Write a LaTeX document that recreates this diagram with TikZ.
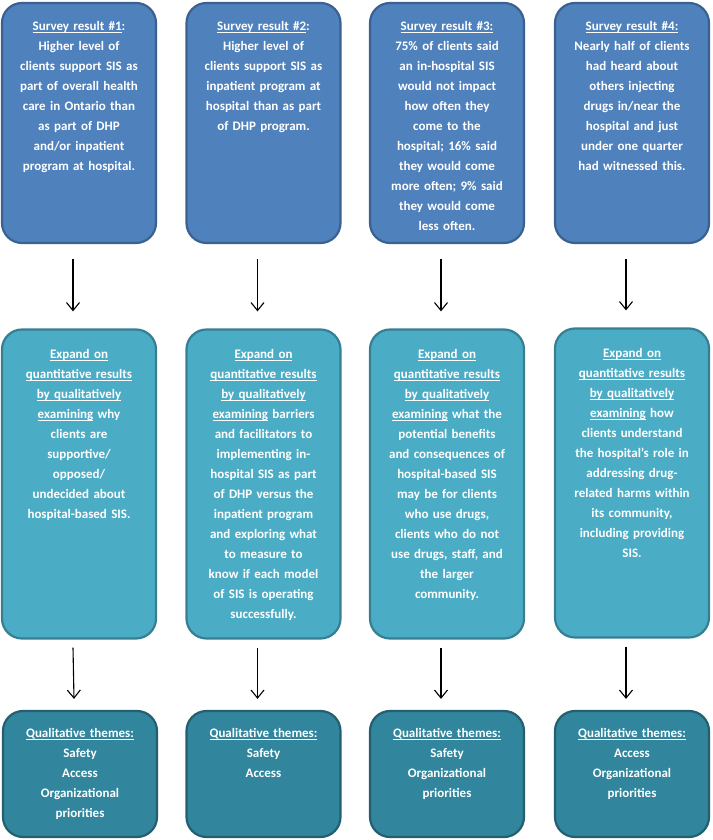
\documentclass[tikz,border=0pt]{standalone}
\usepackage{fontspec}
\setmainfont{Carlito}
\usetikzlibrary{arrows.meta,positioning}

\definecolor{surveyfill}{HTML}{4F81BD}
\definecolor{surveyedge}{HTML}{3A6190}
\definecolor{expandfill}{HTML}{4BACC6}
\definecolor{expandedge}{HTML}{367F93}
\definecolor{themefill}{HTML}{31859C}
\definecolor{themeedge}{HTML}{235F70}

\newcommand{\boxfont}{\fontsize{13}{20}\selectfont\bfseries}
% underline sitting just under the baseline
\newlength{\ulwidth}
\newcommand{\uln}[1]{\leavevmode\settowidth{\ulwidth}{#1}\rlap{\rule[-2.2pt]{\ulwidth}{0.9pt}}#1}

\begin{document}
\begin{tikzpicture}[x=1pt,y=1pt,
 survey/.style={draw=surveyedge,fill=surveyfill,line width=2.2pt,rounded corners=20pt,
   minimum width=154pt,minimum height=240pt},
 expand/.style={draw=expandedge,fill=expandfill,line width=2.2pt,rounded corners=20pt,
   minimum width=154pt,minimum height=309pt},
 theme/.style={draw=themeedge,fill=themefill,line width=2.2pt,rounded corners=20pt,
   minimum width=154pt,minimum height=126pt},
 boxtext/.style={text=white,font=\boxfont,align=center,text width=152pt,inner sep=0pt,anchor=base},
 flow/.style={line width=1.1pt,-{Straight Barb[length=8pt,width=13pt]}}]
 \useasboundingbox (0,0) rectangle (712,840);

 % survey results
 \node[survey] (r1) at (79,717) {};
 \node[survey] (r2) at (263.5,717) {};
 \node[survey] (r3) at (447,717) {};
 \node[survey] (r4) at (632,717) {};

 \node[boxtext] (r1txt) at ([yshift=-29pt]r1.north) {\uln{Survey result \#1}:\\ Higher level of\\ clients support SIS as\\ part of overall health\\ care in Ontario than\\ as part of DHP\\ and/or inpatient\\ program at hospital.};
 \node[boxtext] (r2txt) at ([yshift=-29pt]r2.north) {\uln{Survey result \#2}:\\ Higher level of\\ clients support SIS as\\ inpatient program at\\ hospital than as part\\ of DHP program.};
 \node[boxtext] (r3txt) at ([yshift=-29pt]r3.north) {\uln{Survey result \#3:}\\ 75\% of clients said\\ an in-hospital SIS\\ would not impact\\ how often they\\ come to the\\ hospital; 16\% said\\ they would come\\ more often; 9\% said\\ they would come\\ less often.};
 \node[boxtext] (r4txt) at ([yshift=-29pt]r4.north) {\uln{Survey result \#4:}\\ Nearly half of clients\\ had heard about\\ others injecting\\ drugs in/near the\\ hospital and just\\ under one quarter\\ had witnessed this.};

 % qualitative follow-up
 \node[expand] (q1) at (79,356) {};
 \node[expand] (q2) at (263.5,356) {};
 \node[expand] (q3) at (447,356) {};
 \node[expand] (q4) at (632,357) {};

 \node[boxtext] (q1txt) at ([yshift=-30pt]q1.north) {\uln{Expand on}\\ \uln{quantitative results}\\ \uln{by qualitatively}\\ \uln{examining} why\\ clients are\\ supportive/\\ opposed/\\ undecided about\\ hospital-based SIS.};
 \node[boxtext] (q2txt) at ([yshift=-30pt]q2.north) {\uln{Expand on}\\ \uln{quantitative results}\\ \uln{by qualitatively}\\ \uln{examining} barriers\\ and facilitators to\\ implementing in-\\ hospital SIS as part\\ of DHP versus the\\ inpatient program\\ and exploring what\\ to measure to\\ know if each model\\ of SIS is operating\\ successfully.};
 \node[boxtext] (q3txt) at ([yshift=-30pt]q3.north) {\uln{Expand on}\\ \uln{quantitative results}\\ \uln{by qualitatively}\\ \uln{examining} what the\\ potential benefits\\ and consequences of\\ hospital-based SIS\\ may be for clients\\ who use drugs,\\ clients who do not\\ use drugs, staff, and\\ the larger\\ community.};
 \node[boxtext] (q4txt) at ([yshift=-30pt]q4.north) {\uln{Expand on}\\ \uln{quantitative results}\\ \uln{by qualitatively}\\ \uln{examining} how\\ clients understand\\ the hospital's role in\\ addressing drug-\\ related harms within\\ its community,\\ including providing\\ SIS.};

 % themes
 \node[theme] (t1) at (80,66) {};
 \node[theme] (t2) at (263.5,66) {};
 \node[theme] (t3) at (447,66) {};
 \node[theme] (t4) at (632,66) {};

 \node[boxtext] (t1txt) at ([yshift=-28pt]t1.north) {\uln{Qualitative themes:}\\ Safety\\ Access\\ Organizational\\ priorities};
 \node[boxtext] (t2txt) at ([yshift=-28pt]t2.north) {\uln{Qualitative themes:}\\ Safety\\ Access};
 \node[boxtext] (t3txt) at ([yshift=-28pt]t3.north) {\uln{Qualitative themes:}\\ Safety\\ Organizational\\ priorities};
 \node[boxtext] (t4txt) at ([yshift=-28pt]t4.north) {\uln{Qualitative themes:}\\ Access\\ Organizational\\ priorities};

 % arrows
 \draw[flow] ([xshift=-6pt,yshift=-15pt]r1.south) -- ([xshift=-6pt,yshift=17pt]q1.north);
 \draw[flow] ([xshift=-6pt,yshift=-15pt]r2.south) -- ([xshift=-6pt,yshift=17pt]q2.north);
 \draw[flow] ([xshift=-6pt,yshift=-15pt]r3.south) -- ([xshift=-6pt,yshift=17pt]q3.north);
 \draw[flow] ([xshift=-6pt,yshift=-15pt]r4.south) -- ([xshift=-6pt,yshift=17pt]q4.north);

 \draw[flow] ([xshift=-6pt,yshift=-8pt]q1.south) -- ([xshift=-6pt,yshift=11pt]t1.north);
 \draw[flow] ([xshift=-6pt,yshift=-8pt]q2.south) -- ([xshift=-6pt,yshift=11pt]t2.north);
 \draw[flow] ([xshift=-6pt,yshift=-8pt]q3.south) -- ([xshift=-6pt,yshift=11pt]t3.north);
 \draw[flow] ([xshift=-6pt,yshift=-8pt]q4.south) -- ([xshift=-6pt,yshift=11pt]t4.north);
\end{tikzpicture}
\end{document}
